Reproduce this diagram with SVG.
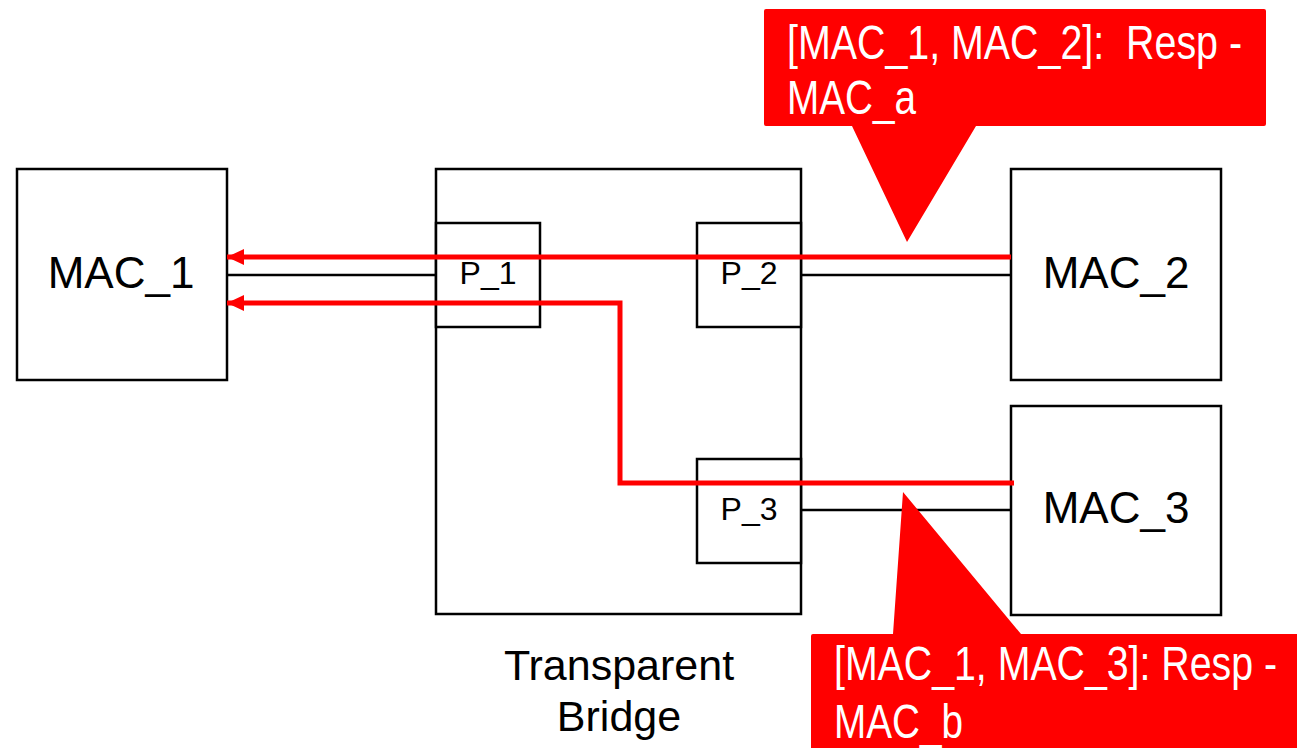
<svg xmlns="http://www.w3.org/2000/svg" width="1297" height="748" viewBox="0 0 1297 748">
<style>
.box{fill:#fff;stroke:#000;stroke-width:2.5}
.lbl{font-family:"Liberation Sans",Arial,sans-serif;fill:#000;text-anchor:middle}
.wire{stroke:#000;stroke-width:2.5;fill:none}
.red{stroke:#ff0000;stroke-width:5;fill:none}
.callout{fill:#ff0000}
.ctext{font-family:"Liberation Sans",Arial,sans-serif;font-size:48px;fill:#fff}
</style>
<defs>
<marker id="arr" markerUnits="userSpaceOnUse" markerWidth="18" markerHeight="18" refX="17" refY="8" orient="auto">
<path d="M0,0 L17,8 L0,16 Z" fill="#ff0000"/>
</marker>
</defs>
<rect width="1297" height="748" fill="#fff"/>
<g id="bridge">
<rect class="box" x="436" y="169" width="365" height="445"/>
<text class="lbl" x="619" y="680" font-size="43">Transparent</text>
<text class="lbl" x="619" y="731" font-size="43">Bridge</text>
</g>
<g id="p1">
<rect class="box" x="436" y="223" width="104" height="104"/>
<text class="lbl" x="488" y="284" font-size="32">P_1</text>
</g>
<g id="p2">
<rect class="box" x="697" y="223" width="104" height="104"/>
<text class="lbl" x="749" y="284" font-size="32">P_2</text>
</g>
<g id="p3">
<rect class="box" x="697" y="459" width="104" height="104"/>
<text class="lbl" x="749" y="520" font-size="32">P_3</text>
</g>
<g id="mac1">
<rect class="box" x="17" y="169" width="210" height="211"/>
<text class="lbl" x="121" y="288" font-size="44">MAC_1</text>
</g>
<g id="mac2">
<rect class="box" x="1011" y="169" width="210" height="211"/>
<text class="lbl" x="1116" y="288" font-size="44">MAC_2</text>
</g>
<g id="mac3">
<rect class="box" x="1011" y="406" width="210" height="209"/>
<text class="lbl" x="1116" y="523" font-size="44">MAC_3</text>
</g>
<g id="connectors">
<line class="wire" x1="227" y1="275" x2="436" y2="275"/>
<line class="wire" x1="801" y1="275" x2="1011" y2="275"/>
<line class="wire" x1="801" y1="510" x2="1011" y2="510"/>
<path class="red" d="M1011,257 L227,257" marker-end="url(#arr)"/>
<path class="red" d="M1014,483 L620,483 L620,303 L227,303" marker-end="url(#arr)"/>
</g>
<g id="callout1">
<path class="callout" d="M766,9 H1264 Q1266,9 1266,11 V124 Q1266,126 1264,126 H976 L907,242 L852,126 H766 Q764,126 764,124 V11 Q764,9 766,9 Z"/>
<text class="ctext" x="787" y="59" textLength="455" lengthAdjust="spacingAndGlyphs" xml:space="preserve">[MAC_1, MAC_2]:  Resp -</text>
<text class="ctext" x="787" y="114" textLength="129" lengthAdjust="spacingAndGlyphs">MAC_a</text>
</g>
<g id="callout2">
<path class="callout" d="M813,634 H893 L903,492 L1021,634 H1297 V748 H811 V636 Q811,634 813,634 Z"/>
<text class="ctext" x="834" y="680" textLength="443" lengthAdjust="spacingAndGlyphs">[MAC_1, MAC_3]: Resp -</text>
<text class="ctext" x="834" y="738" textLength="129" lengthAdjust="spacingAndGlyphs">MAC_b</text>
</g>
</svg>
